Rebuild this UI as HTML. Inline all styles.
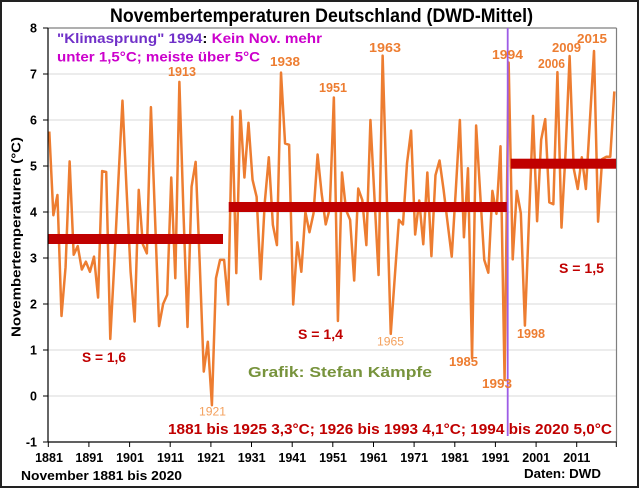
<!DOCTYPE html>
<html><head><meta charset="utf-8"><style>
html,body{margin:0;padding:0;background:#fff;}
svg{display:block;font-family:"Liberation Sans",Arial,sans-serif;}
</style></head><body>
<svg width="640" height="488" viewBox="0 0 640 488" xmlns="http://www.w3.org/2000/svg">
<rect x="0" y="0" width="640" height="488" fill="#fff"/>
<rect x="1" y="1" width="637" height="486" fill="none" stroke="#222" stroke-width="2"/>
<!-- gridlines -->
<g stroke="#d9d9d9" stroke-width="1">
<line x1="48" y1="74" x2="616" y2="74"/><line x1="48" y1="120" x2="616" y2="120"/>
<line x1="48" y1="166" x2="616" y2="166"/><line x1="48" y1="212" x2="616" y2="212"/>
<line x1="48" y1="258" x2="616" y2="258"/><line x1="48" y1="304" x2="616" y2="304"/>
<line x1="48" y1="350" x2="616" y2="350"/><line x1="48" y1="396" x2="616" y2="396"/>
</g>
<!-- plot frame -->
<line x1="48" y1="28" x2="616.5" y2="28" stroke="#7f7f7f" stroke-width="1.2"/>
<line x1="616.5" y1="28" x2="616.5" y2="442" stroke="#7f7f7f" stroke-width="1.2"/>
<!-- series -->
<polyline fill="none" stroke="#ed7d31" stroke-width="2.5" stroke-linejoin="round" vector-effect="non-scaling-stroke" transform="translate(49.3,396) scale(4.065,-46)" points="0,5.75 1,3.93 2,4.37 3,1.74 4,2.8 5,5.1 6,3.07 7,3.26 8,2.75 9,2.92 10,2.70 11,3.03 12,2.14 13,4.89 14,4.87 15,1.24 16,2.9 17,4.7 18,6.42 19,4.5 20,2.7 21,1.62 22,4.48 23,3.30 24,3.10 25,6.28 26,3.9 27,1.52 28,2.0 29,2.2 30,4.75 31,2.56 32,6.83 33,4.0 34,1.5 35,4.55 36,5.09 37,2.9 38,0.53 39,1.18 40,-0.2 41,2.56 42,2.96 43,2.96 44,1.99 45,6.07 46,2.67 47,6.2 48,4.75 49,5.94 50,4.7 51,4.33 52,2.54 53,4.2 54,5.19 55,3.72 56,3.28 57,7.03 58,5.49 59,5.46 60,1.99 61,3.34 62,2.70 63,4.0 64,3.56 65,3.97 66,5.25 67,4.4 68,3.73 69,4.08 70,6.49 71,1.63 72,4.86 73,4.04 74,3.83 75,2.51 76,4.51 77,4.26 78,3.28 79,6.0 80,4.3 81,2.63 82,7.4 83,4.4 84,1.35 85,2.6 86,3.83 87,3.73 88,5.06 89,5.77 90,3.51 91,4.25 92,3.30 93,4.86 94,3.04 95,4.80 96,5.12 97,4.48 98,3.75 99,3.03 100,4.48 101,6.0 102,3.45 103,4.95 104,0.82 105,5.88 106,4.4 107,2.96 108,2.68 109,4.46 110,3.96 111,5.43 112,0.35 113,7.25 114,2.97 115,4.46 116,3.97 117,1.53 118,3.83 119,6.09 120,3.80 121,5.57 122,6.02 123,4.21 124,4.17 125,7.04 126,3.66 127,5.3 128,7.39 129,4.95 130,4.5 131,5.19 132,4.5 133,6.0 134,7.5 135,3.79 136,5.15 137,5.2 138,5.2 139,6.62"/>
<!-- mean bars -->
<rect x="48" y="234" width="175" height="10" fill="#c00000"/>
<rect x="228.7" y="202" width="278.3" height="10" fill="#c00000"/>
<rect x="510.7" y="158.7" width="105.3" height="10" fill="#c00000"/>
<!-- purple line -->
<line x1="507.7" y1="28" x2="507.7" y2="436" stroke="#9d5ce6" stroke-width="1.8"/>
<!-- axes -->
<line x1="48" y1="28" x2="48" y2="442" stroke="#000" stroke-width="1.2"/>
<line x1="48" y1="442" x2="616.5" y2="442" stroke="#000" stroke-width="1.2"/>
<g stroke="#000" stroke-width="1">
<line x1="43" y1="28" x2="48" y2="28"/><line x1="43" y1="74" x2="48" y2="74"/>
<line x1="43" y1="120" x2="48" y2="120"/><line x1="43" y1="166" x2="48" y2="166"/>
<line x1="43" y1="212" x2="48" y2="212"/><line x1="43" y1="258" x2="48" y2="258"/>
<line x1="43" y1="304" x2="48" y2="304"/><line x1="43" y1="350" x2="48" y2="350"/>
<line x1="43" y1="396" x2="48" y2="396"/><line x1="43" y1="442" x2="48" y2="442"/>
<line x1="48.3" y1="442" x2="48.3" y2="447"/><line x1="88.9" y1="442" x2="88.9" y2="447"/>
<line x1="129.6" y1="442" x2="129.6" y2="447"/><line x1="170.2" y1="442" x2="170.2" y2="447"/>
<line x1="210.9" y1="442" x2="210.9" y2="447"/><line x1="251.5" y1="442" x2="251.5" y2="447"/>
<line x1="292.2" y1="442" x2="292.2" y2="447"/><line x1="332.8" y1="442" x2="332.8" y2="447"/>
<line x1="373.5" y1="442" x2="373.5" y2="447"/><line x1="414.1" y1="442" x2="414.1" y2="447"/>
<line x1="454.8" y1="442" x2="454.8" y2="447"/><line x1="495.4" y1="442" x2="495.4" y2="447"/>
<line x1="536.1" y1="442" x2="536.1" y2="447"/><line x1="576.7" y1="442" x2="576.7" y2="447"/>
<line x1="616.3" y1="442" x2="616.3" y2="447"/>
</g>
<!-- y labels -->
<g font-size="12.5" font-weight="bold" fill="#000" text-anchor="end">
<text x="37" y="32.5">8</text><text x="37" y="78.5">7</text><text x="37" y="124.5">6</text>
<text x="37" y="170.5">5</text><text x="37" y="216.5">4</text><text x="37" y="262.5">3</text>
<text x="37" y="308.5">2</text><text x="37" y="354.5">1</text><text x="37" y="400.5">0</text>
<text x="37" y="446.5">-1</text>
</g>
<!-- x labels -->
<g font-size="12.5" font-weight="bold" fill="#000" text-anchor="middle">
<text x="49" y="462">1881</text><text x="89.3" y="462">1891</text><text x="130" y="462">1901</text>
<text x="170.5" y="462">1911</text><text x="211" y="462">1921</text><text x="251.7" y="462">1931</text>
<text x="292.3" y="462">1941</text><text x="333" y="462">1951</text><text x="373.6" y="462">1961</text>
<text x="414.2" y="462">1971</text><text x="454.9" y="462">1981</text><text x="495.5" y="462">1991</text>
<text x="536.2" y="462">2001</text><text x="576.8" y="462">2011</text>
</g>
<!-- title -->
<text x="110" y="22" font-size="19" font-weight="bold" fill="#000" textLength="423" lengthAdjust="spacingAndGlyphs">Novembertemperaturen Deutschland (DWD-Mittel)</text>
<!-- y axis title -->
<text transform="translate(20.5,237) rotate(-90)" text-anchor="middle" font-size="13" font-weight="bold" fill="#000" textLength="200" lengthAdjust="spacingAndGlyphs">Novembertemperaturen (°C)</text>
<!-- annotation -->
<text x="57" y="43" font-size="14" font-weight="bold" textLength="265" lengthAdjust="spacingAndGlyphs"><tspan fill="#7030c8">"Klimasprung" 1994</tspan><tspan fill="#000">: </tspan><tspan fill="#cc00cc">Kein Nov. mehr</tspan></text>
<text x="57" y="61.5" font-size="14" font-weight="bold" fill="#cc00cc" textLength="203" lengthAdjust="spacingAndGlyphs">unter 1,5°C; meiste über 5°C</text>
<!-- year labels bold -->
<g font-weight="bold" fill="#ed7d31" font-size="13">
<text x="168" y="76" textLength="28" lengthAdjust="spacingAndGlyphs">1913</text>
<text x="270" y="66" textLength="30" lengthAdjust="spacingAndGlyphs">1938</text>
<text x="319" y="92" textLength="28" lengthAdjust="spacingAndGlyphs">1951</text>
<text x="369" y="52" textLength="32" lengthAdjust="spacingAndGlyphs">1963</text>
<text x="492" y="59" textLength="31" lengthAdjust="spacingAndGlyphs">1994</text>
<text x="538" y="68" textLength="27" lengthAdjust="spacingAndGlyphs">2006</text>
<text x="552" y="52" textLength="29" lengthAdjust="spacingAndGlyphs">2009</text>
<text x="577" y="43" textLength="30" lengthAdjust="spacingAndGlyphs">2015</text>
<text x="449" y="366" textLength="29" lengthAdjust="spacingAndGlyphs">1985</text>
<text x="482" y="388" textLength="30" lengthAdjust="spacingAndGlyphs">1993</text>
<text x="517" y="338" textLength="28" lengthAdjust="spacingAndGlyphs">1998</text>
</g>
<g fill="#f4a15d" font-size="12">
<text x="199" y="415.5" textLength="27" lengthAdjust="spacingAndGlyphs">1921</text>
<text x="377" y="345.5" textLength="27" lengthAdjust="spacingAndGlyphs">1965</text>
</g>
<!-- S labels -->
<g font-weight="bold" fill="#c00000" font-size="13.5">
<text x="82" y="362" textLength="44" lengthAdjust="spacingAndGlyphs">S = 1,6</text>
<text x="298" y="339" textLength="45" lengthAdjust="spacingAndGlyphs">S = 1,4</text>
<text x="559" y="273" textLength="45" lengthAdjust="spacingAndGlyphs">S = 1,5</text>
</g>
<text x="248" y="377" font-size="14.5" font-weight="bold" fill="#77933c" textLength="184" lengthAdjust="spacingAndGlyphs">Grafik: Stefan Kämpfe</text>
<text x="168" y="434" font-size="14.5" font-weight="bold" fill="#c00000" textLength="444" lengthAdjust="spacingAndGlyphs">1881 bis 1925 3,3°C; 1926 bis 1993 4,1°C; 1994 bis 2020 5,0°C</text>
<text x="21" y="480" font-size="13" font-weight="bold" fill="#000" textLength="161" lengthAdjust="spacingAndGlyphs">November 1881 bis 2020</text>
<text x="524" y="478" font-size="13" font-weight="bold" fill="#000" textLength="77" lengthAdjust="spacingAndGlyphs">Daten: DWD</text>
</svg>
</body></html>
